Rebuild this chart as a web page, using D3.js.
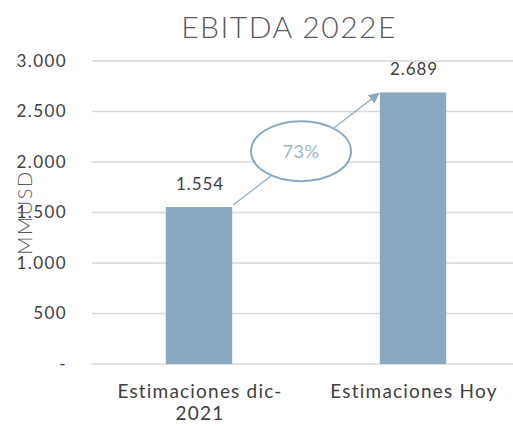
<!DOCTYPE html>
<html>
<head>
<meta charset="utf-8">
<script src="https://cdn.jsdelivr.net/npm/d3@7"></script>
<style>
  body { margin: 0; background: #fff; }
  text { font-family: Lato, "Open Sans", sans-serif; }
</style>
</head>
<body>
<div id="chart"></div>
<script>
const categories = [["Estimaciones dic-", "2021"], ["Estimaciones Hoy"]];
const values = [1554, 2689];
const yTicks = [0, 500, 1000, 1500, 2000, 2500, 3000];
const growthLabel = "73%";

const w = 513, h = 426;
const margin = { top: 61, right: -7, bottom: 62, left: 92 };

const locale = d3.formatLocale({ decimal: ",", thousands: ".", grouping: [3], currency: ["$", ""] });
const fmt = locale.format(",d");

const svg = d3.select("#chart").append("svg")
  .attr("width", w)
  .attr("height", h);

const x = d3.scaleBand()
  .domain(d3.range(values.length))
  .range([margin.left, w - margin.right])
  .paddingInner(0.69)
  .paddingOuter(0.345);

const y = d3.scaleLinear()
  .domain([0, 3000])
  .range([h - margin.bottom, margin.top]);

// title
svg.append("text")
  .attr("x", 289)
  .attr("y", 38)
  .attr("text-anchor", "middle")
  .attr("font-size", 30)
  .attr("font-weight", 300)
  .attr("letter-spacing", 1.5)
  .attr("fill", "#595959")
  .text("EBITDA 2022E");

// grid
svg.append("g")
  .selectAll("line")
  .data(yTicks)
  .join("line")
  .attr("x1", margin.left)
  .attr("x2", w)
  .attr("y1", d => y(d))
  .attr("y2", d => y(d))
  .attr("stroke", "#d9d9d9")
  .attr("stroke-width", 1.3);

// y tick labels
svg.append("g")
  .selectAll("text")
  .data(yTicks)
  .join("text")
  .attr("x", 67)
  .attr("y", d => y(d))
  .attr("dy", "0.35em")
  .attr("text-anchor", "end")
  .attr("font-size", 17)
  .attr("letter-spacing", 1.4)
  .attr("fill", "#404040")
  .text(d => d === 0 ? "-" : fmt(d));

// y axis title
svg.append("text")
  .attr("transform", `translate(32, ${y(1500)}) rotate(-90)`)
  .attr("text-anchor", "middle")
  .attr("font-size", 20)
  .attr("font-weight", 300)
  .attr("letter-spacing", 1.5)
  .attr("fill", "#595959")
  .text("MMUSD");

// bars
svg.append("g")
  .selectAll("rect")
  .data(values)
  .join("rect")
  .attr("x", (d, i) => x(i))
  .attr("y", d => y(d))
  .attr("width", x.bandwidth())
  .attr("height", d => y(0) - y(d))
  .attr("fill", "#8aa9c1");

// value labels
svg.append("g")
  .selectAll("text")
  .data(values)
  .join("text")
  .attr("x", (d, i) => x(i) + x.bandwidth() / 2 + 1)
  .attr("y", d => y(d) - 17)
  .attr("text-anchor", "middle")
  .attr("font-size", 17)
  .attr("letter-spacing", 0.9)
  .attr("fill", "#404040")
  .text(d => fmt(d));

// category labels
const cat = svg.append("g")
  .selectAll("text")
  .data(categories)
  .join("text")
  .attr("x", (d, i) => x(i) + x.bandwidth() / 2 + 1)
  .attr("y", 398)
  .attr("text-anchor", "middle")
  .attr("font-size", 19)
  .attr("letter-spacing", 1.2)
  .attr("fill", "#404040");

cat.selectAll("tspan")
  .data(d => d)
  .join("tspan")
  .attr("x", function () { return d3.select(this.parentNode).attr("x"); })
  .attr("dy", (d, i) => i === 0 ? 0 : 22)
  .text(d => d);

// arrow
svg.append("defs").append("marker")
  .attr("id", "arrow")
  .attr("viewBox", "0 0 10 10")
  .attr("refX", 9)
  .attr("refY", 5)
  .attr("markerWidth", 9)
  .attr("markerHeight", 9)
  .attr("orient", "auto")
  .append("path")
  .attr("d", "M0,0 L10,5 L0,10 z")
  .attr("fill", "#8aa9c1");

const x0 = x(0) + x.bandwidth() + 1;
const y0 = y(values[0]) - 2;
const x1 = x(1) - 1;
const y1 = y(values[1]) + 1;

svg.append("line")
  .attr("x1", x0)
  .attr("y1", y0)
  .attr("x2", x1)
  .attr("y2", y1)
  .attr("stroke", "#8aa9c1")
  .attr("stroke-width", 1.2)
  .attr("marker-end", "url(#arrow)");

const cx = (x0 + x1) / 2 - 5;
const cy = (y0 + y1) / 2 + 2;

svg.append("ellipse")
  .attr("cx", cx)
  .attr("cy", cy)
  .attr("rx", 50)
  .attr("ry", 30)
  .attr("fill", "#fff")
  .attr("stroke", "#8aa9c1")
  .attr("stroke-width", 2);

svg.append("text")
  .attr("x", cx)
  .attr("y", cy)
  .attr("dy", "0.35em")
  .attr("text-anchor", "middle")
  .attr("font-size", 18)
  .attr("letter-spacing", 0.5)
  .attr("fill", "#9db4c8")
  .text(growthLabel);
</script>
</body>
</html>
